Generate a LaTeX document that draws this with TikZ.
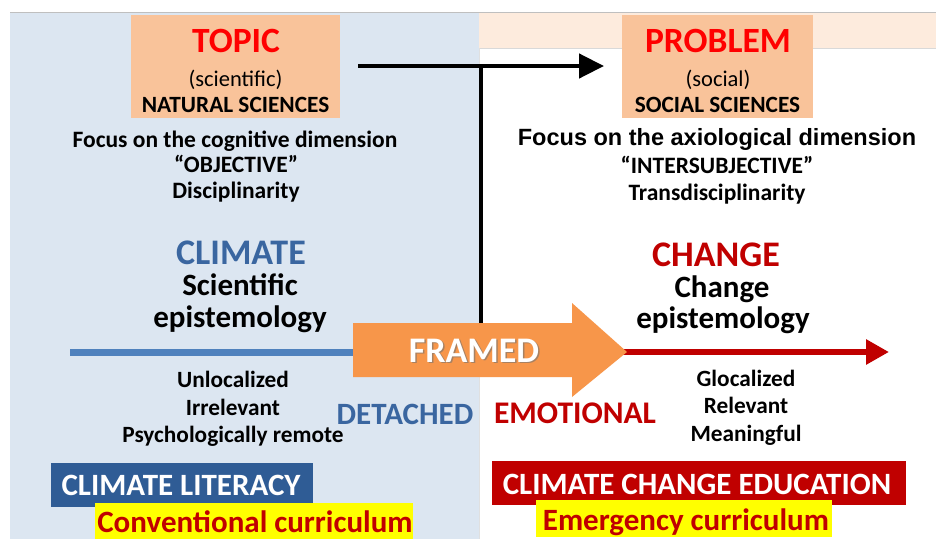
\documentclass[tikz,border=0pt]{standalone}
\usepackage{fontspec}
\setmainfont{Carlito}
\newfontfamily\arialfont{Liberation Sans}
\usetikzlibrary{arrows.meta}
\newcommand{\fsz}[1]{\fontsize{#1}{#1}\selectfont}
\definecolor{panelblue}{HTML}{DCE6F1}
\definecolor{boxorange}{HTML}{F9C39A}
\definecolor{stripPeach}{HTML}{FDEBDD}
\definecolor{titlered}{HTML}{FF0000}
\definecolor{darkred}{HTML}{C00000}
\definecolor{climblue}{HTML}{3A66A0}
\definecolor{lineblue}{HTML}{4F81BD}
\definecolor{litblue}{HTML}{2F5C95}
\definecolor{framedorange}{HTML}{F7964A}
\definecolor{hiyellow}{HTML}{FFFF00}
\tikzset{
  txt/.style={anchor=base, inner sep=0pt, font=\bfseries\fsz{#1}},
  txt/.default=20,
  plain/.style={anchor=base, inner sep=0pt, font=\fsz{#1}},
  headbox/.style={fill=boxorange, draw=none, inner sep=0pt},
  bandbox/.style={draw=none, inner sep=0pt},
  linkline/.style={line width=4.5pt, black},
}
\begin{document}
\begin{tikzpicture}[x=1pt,y=-1pt]
\useasboundingbox (0,0) rectangle (936,539);
\fill[white] (0,0) rectangle (936,539);
% left panel, right header strip and frame line
\fill[panelblue] (10,13) rectangle (479,539);
\fill[stripPeach] (479,13) rectangle (936,48);
\draw[black!25, line width=0.8pt] (10,12.5) -- (936,12.5);
\draw[black!15, line width=0.6pt] (479,48) -- (936,48);
\draw[black!12, line width=1pt] (479,48) -- (479,539);

% header boxes
\node[headbox, minimum width=209pt, minimum height=103pt] (topicbox) at (235.5,66.5) {};
\node[headbox, minimum width=191pt, minimum height=103pt] (problembox) at (717.5,66.5) {};

\node[txt=35.5, text=titlered] (topic) at (236,52) {TOPIC};
\node[plain=22.5] (sci) at (235.5,86) {(scientific)};
\node[txt=23.3] (natsci) at (235.5,112) {NATURAL SCIENCES};

\node[txt=35.5, text=titlered] (problem) at (718,52) {PROBLEM};
\node[plain=22.5] (soc) at (718,86) {(social)};
\node[txt=23.3] (socsci) at (717.5,112) {SOCIAL SCIENCES};

% descriptions
\node[txt=23.5] (cogn) at (235,147) {Focus on the cognitive dimension};
\node[txt=23.5] (obj) at (236,172) {“OBJECTIVE”};
\node[txt=23.5] (disc) at (236,198) {Disciplinarity};

\node[anchor=base, inner sep=0pt, font=\arialfont\bfseries\fsz{23.5}] (axio) at (717,145) {Focus on the axiological dimension};
\node[txt=23.5] (inter) at (717,173) {“INTERSUBJECTIVE”};
\node[txt=23.5] (trans) at (717,200) {Transdisciplinarity};

% epistemologies
\node[txt=36, text=climblue] (climate) at (241,264) {CLIMATE};
\node[txt=31] (scientific) at (240,295) {Scientific};
\node[txt=31] (episL) at (240,327) {epistemology};

\node[txt=36, text=darkred] (change) at (716,266) {CHANGE};
\node[txt=31] (changeW) at (722,297.5) {Change};
\node[txt=31] (episR) at (723,328) {epistemology};

% link from topic to problem
\coordinate (lstart) at (358,66);
\coordinate (junction) at (481,66);
\coordinate (lend) at (604,66);
\coordinate (stem) at (481,340);
\draw[linkline, -{Triangle[length=25pt,width=24pt]}] (lstart) -- (lend);
\draw[linkline] (junction) -- (stem);

% axis lines
\coordinate (bluestart) at (70,352);
\coordinate (blueend) at (380,352);
\coordinate (redstart) at (620,352);
\coordinate (redend) at (889,352);
\draw[lineblue, line width=7pt] (bluestart) -- (blueend);
\draw[darkred, line width=6pt, -{Triangle[length=23pt,width=24pt]}] (redstart) -- (redend);

% framing arrow
\fill[framedorange] (353,323) -- (572,323) -- (572,303) -- (627,352)
  -- (572,397) -- (572,377) -- (353,377) -- cycle;
\node[txt=36, text=black!55, opacity=0.6] (framedshadow) at (475.5,363.5) {FRAMED};
\node[txt=36, text=white] (framed) at (474,362) {FRAMED};

% qualities
\node[txt=23.3] (unloc) at (233,387) {Unlocalized};
\node[txt=23.3] (irrel) at (233,415) {Irrelevant};
\node[txt=23.3] (psych) at (233,442) {Psychologically remote};

\node[txt=23.3] (gloc) at (746,386) {Glocalized};
\node[txt=23.3] (relev) at (746,413) {Relevant};
\node[txt=23.3] (meaning) at (746,441) {Meaningful};

\node[txt=31, text=climblue] (detached) at (405,424) {DETACHED};
\node[txt=31.5, text=darkred] (emotional) at (575,423) {EMOTIONAL};

% curriculum bands
\node[bandbox, fill=litblue, minimum width=262pt, minimum height=44pt] (litbox) at (182,485) {};
\node[txt=31, text=white] (lit) at (181,495) {CLIMATE LITERACY};
\node[bandbox, fill=hiyellow, minimum width=318pt, minimum height=36pt] (convbox) at (254,521) {};
\node[txt=31, text=darkred] (conv) at (255,532) {Conventional curriculum};

\node[bandbox, fill=darkred, minimum width=414pt, minimum height=44pt] (ccebox) at (699,483) {};
\node[txt=31, text=white] (cce) at (697,494) {CLIMATE CHANGE EDUCATION};
\node[bandbox, fill=hiyellow, minimum width=296pt, minimum height=37pt] (emerbox) at (684,518.5) {};
\node[txt=31, text=darkred] (emer) at (686,530) {Emergency curriculum};
\end{tikzpicture}
\end{document}
